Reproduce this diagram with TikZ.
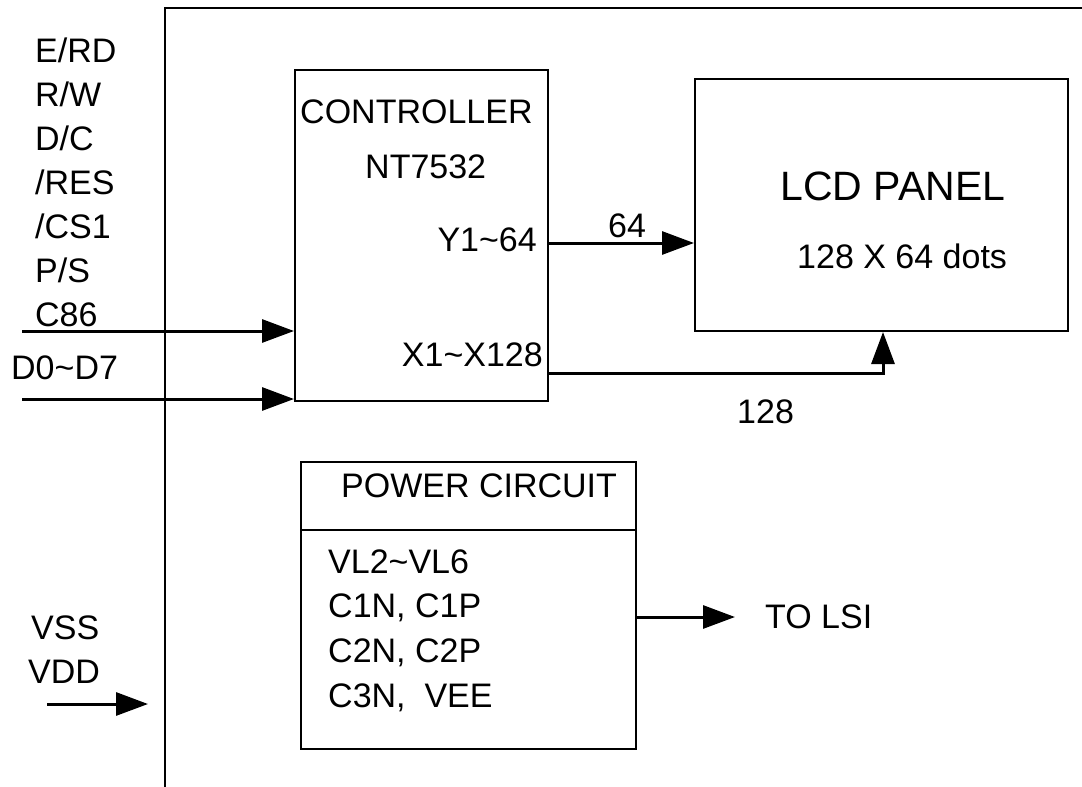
\documentclass[tikz,border=0pt]{standalone}
\usepackage{fontspec}
\setmainfont{Liberation Sans}
\usetikzlibrary{arrows.meta,positioning}
\tikzset{
  blk/.style={draw,line width=2pt,inner sep=0pt,anchor=north west},
  lbl/.style={inner sep=0pt,anchor=base west,font=\fontsize{34}{40}\selectfont},
  sig/.style={line width=3pt,-{Triangle[length=32pt,width=23pt]}}
}
\begin{document}
\begin{tikzpicture}[x=1pt,y=-1pt]
  \useasboundingbox (0,0) rectangle (1082,787);
  % --- module outline ---
  \draw[line width=2pt] (1082,8) -- (165,8) -- (165,787);
  % --- blocks ---
  \node[blk,minimum width=253pt,minimum height=331pt] (ctrl) at (294,69) {};
  \node[blk,minimum width=373pt,minimum height=252pt] (lcd) at (694,78) {};
  \node[blk,minimum width=335pt,minimum height=287pt] (pwr) at (300,461) {};
  \draw[line width=2pt] (pwr.west |- 0,530) -- (pwr.east |- 0,530);
  % --- interface signals ---
  \foreach \t [count=\i from 0] in {E/RD,R/W,D/C,/RES,/CS1,P/S,C86}
    \node[lbl] (in\i) at (35,62+44*\i) {\t};
  \node[lbl] (dbus) at (11,379) {D0\char`~D7};
  \node[lbl] (vss) at (31,639) {VSS};
  \node[lbl] (vdd) at (28,683) {VDD};
  % --- controller texts ---
  \node[lbl] (ctrlname) at (300,123) {CONTROLLER};
  \node[lbl] (ctrlic) at (365,178) {NT7532};
  \node[lbl,anchor=base east] (ypins) at (537,251) {Y1\char`~64};
  \node[lbl,anchor=base east] (xpins) at (543,366) {X1\char`~X128};
  % --- panel texts ---
  \node[lbl,anchor=base,font=\fontsize{41}{48}\selectfont] (lcdname) at (893,200) {LCD PANEL};
  \node[lbl] (lcdsize) at (797,268) {128 X 64 dots};
  \node[lbl,anchor=base] (n64) at (627,237) {64};
  \node[lbl] (n128) at (737,423) {128};
  % --- power circuit texts ---
  \node[lbl] (pwrname) at (341,497) {POWER CIRCUIT};
  \foreach \t [count=\i from 0] in {VL2\char`~VL6,{C1N, C1P},{C2N, C2P},{C3N,\ \ VEE}}
    \node[lbl] (pw\i) at (328,573+44.7*\i) {\t};
  \node[lbl] (tolsi) at (765,628) {TO LSI};
  % --- connectors ---
  \coordinate (c86in) at (22,331);
  \coordinate (dbusin) at (22,399);
  \coordinate (vddin) at (47,704);
  \coordinate (yout) at (547,243);
  \coordinate (xout) at (547,373);
  \coordinate (xbend) at (883,373);
  \coordinate (lsiout) at (635,617);
  \coordinate (lsiend) at (735,617);
  \draw[sig] (c86in) -- (c86in -| ctrl.west);
  \draw[sig] (dbusin) -- (dbusin -| ctrl.west);
  \draw[sig] (vddin) -- (148,704);
  \draw[sig] (yout) -- (yout -| lcd.west);
  \draw[sig] (xout) -- (xbend) -- (xbend |- lcd.south);
  \draw[sig] (lsiout) -- (lsiend);
\end{tikzpicture}
\end{document}
